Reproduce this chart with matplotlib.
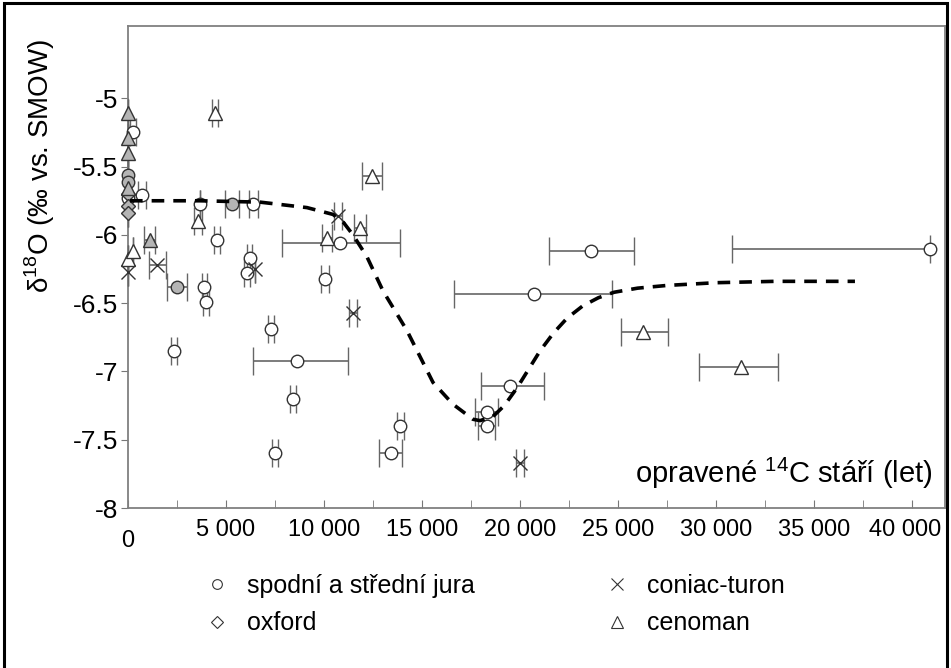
import matplotlib
matplotlib.use("Agg")
import matplotlib.pyplot as plt
import matplotlib.transforms as mtransforms
from matplotlib.lines import Line2D
from matplotlib.patches import Rectangle

plt.rcParams["font.family"] = ["Liberation Sans", "DejaVu Sans"]
plt.rcParams["mathtext.fontset"] = "custom"
plt.rcParams["mathtext.rm"] = "Liberation Sans"

# spodni a stredni jura (open circles)
jura_x = [0, 250, 700, 3650, 6400, 4550, 6200, 6050, 10050, 3900, 4000, 7300, 2350,
          8600, 8400, 7500, 13900, 13400, 10800, 23600, 20700, 19500, 18300, 18300, 40900]
jura_y = [-5.73, -5.25, -5.71, -5.77, -5.77, -6.04, -6.17, -6.28, -6.32, -6.38, -6.49, -6.69, -6.85,
          -6.92, -7.2, -7.6, -7.4, -7.6, -6.06, -6.12, -6.43, -7.11, -7.3, -7.4, -6.1]
jura_lo = [0, 150, 200, 0, 250, 150, 150, 150, 200, 150, 150, 150, 150,
           2200, 150, 150, 200, 600, 2950, 2100, 4050, 1500, 600, 450, 10100]
jura_hi = [0, 150, 200, 0, 250, 150, 150, 150, 200, 150, 150, 150, 150,
           2600, 150, 150, 200, 600, 3100, 2200, 4000, 1750, 600, 450, 0]

# jura, grey filled
jura_g_x = [0, 0, 5300, 2500]
jura_g_y = [-5.56, -5.61, -5.77, -6.38]
jura_g_err = [0, 0, 350, 500]

# oxford (grey diamonds on the axis)
oxford_x = [0, 0, 0]
oxford_y = [-5.7, -5.79, -5.84]

# coniac-turon
coniac_x = [0, 1500, 6500, 10700, 11500, 20000]
coniac_y = [-6.27, -6.22, -6.25, -5.86, -6.57, -7.67]
coniac_err = [0, 450, 0, 200, 200, 200]

# cenoman (open triangles)
ceno_x = [0, 250, 4440, 3570, 11830, 10150, 12450, 26270, 31270]
ceno_y = [-6.18, -6.12, -5.11, -5.9, -5.95, -6.02, -5.57, -6.71, -6.97]
ceno_lo = [0, 0, 150, 200, 300, 250, 500, 1100, 2150]
ceno_hi = [0, 0, 150, 200, 300, 250, 500, 1300, 1900]

# cenoman, grey filled
ceno_g_x = [0, 0, 0, 0, 1100]
ceno_g_y = [-5.11, -5.29, -5.4, -5.66, -6.04]
ceno_g_err = [0, 0, 0, 0, 300]

# dashed trend curve
curve_x = [100, 3670, 6740, 9130, 10460, 11000, 11480, 12190, 13010, 14230, 15560, 16580,
           17600, 17960, 18620, 19200, 19850, 20500, 21020, 21700, 22400, 23200, 24000,
           24800, 26000, 27500, 30000, 33000, 37090]
curve_y = [-5.75, -5.75, -5.76, -5.8, -5.85, -5.91, -6.0, -6.16, -6.41, -6.7, -7.08, -7.24,
           -7.35, -7.36, -7.33, -7.25, -7.12, -6.97, -6.85, -6.72, -6.61, -6.52, -6.46,
           -6.42, -6.39, -6.37, -6.35, -6.34, -6.34]

xticks = [0, 5000, 10000, 15000, 20000, 25000, 30000, 35000, 40000]
xtick_labels = ["0", "5 000", "10 000", "15 000", "20 000", "25 000", "30 000", "35 000", "40 000"]
yticks = [-8, -7.5, -7, -6.5, -6, -5.5, -5]
ytick_labels = ["-8", "-7.5", "-7", "-6.5", "-6", "-5.5", "-5"]

fig = plt.figure(figsize=(9.51, 6.68), dpi=100)
ax = fig.add_axes([0.1346, 0.2395, 0.859, 0.7216])

edge = "#333333"
grey = "#b4b4b4"
bar = "#666666"


def series(x, y, lo, hi, marker, face, size=9):
    ax.errorbar(x, y, xerr=[lo, hi], fmt=marker, ms=size, mfc=face, mec=edge, mew=1.0,
                ecolor=bar, elinewidth=1.2, capsize=10, capthick=1.2, clip_on=False, zorder=3)


series(jura_x, jura_y, jura_lo, jura_hi, "o", "white")
series(jura_g_x, jura_g_y, jura_g_err, jura_g_err, "o", grey)
series(oxford_x, oxford_y, [0] * 3, [0] * 3, "D", grey, size=7.5)
series(ceno_x, ceno_y, ceno_lo, ceno_hi, "^", "white", size=10)
series(ceno_g_x, ceno_g_y, ceno_g_err, ceno_g_err, "^", grey, size=10)
ax.errorbar(coniac_x, coniac_y, xerr=coniac_err, fmt="x", ms=10, mec=edge, mew=1.0,
            ecolor=bar, elinewidth=1.2, capsize=10, capthick=1.2, clip_on=False, zorder=3)

ax.plot(curve_x, curve_y, color="black", lw=2.6, ls=(0, (3.5, 2.5)), zorder=4)

ax.set_xlim(0, 41680)
ax.set_ylim(-8, -4.47)
ax.set_xticks(xticks)
ax.set_xticklabels(xtick_labels, fontsize=17)
ax.set_xticks([2500 + 5000 * i for i in range(8)], minor=True)
ax.set_yticks(yticks)
ax.set_yticklabels(ytick_labels, fontsize=19)
ax.tick_params(axis="x", which="both", direction="in", length=6, color="#777777", pad=8)
ax.tick_params(axis="y", direction="out", length=5, color="#777777", pad=2)
for s in ax.spines.values():
    s.set_color("#808080")
    s.set_linewidth(1.3)

# the zero label sits a little lower in the original, the last one a bit to the left
xlabels = ax.get_xticklabels()
xlabels[0].set_transform(xlabels[0].get_transform()
                         + mtransforms.ScaledTranslation(0, -8 / 72, fig.dpi_scale_trans))
xlabels[-1].set_transform(xlabels[-1].get_transform()
                          + mtransforms.ScaledTranslation(-5 / 72, 0, fig.dpi_scale_trans))

ax.text(0.985, 0.035, r"opravené $^{14}$C stáří (let)", transform=ax.transAxes,
        ha="right", va="bottom", fontsize=21)
fig.text(0.042, 0.752, r"δ$^{18}$O (‰ vs. SMOW)", rotation=90, ha="center", va="center", fontsize=20)

handles = [
    Line2D([], [], ls="none", marker="o", ms=7, mfc="white", mec=edge, mew=0.8),
    Line2D([], [], ls="none", marker="D", ms=6, mfc="white", mec=edge, mew=0.8),
    Line2D([], [], ls="none", marker="x", ms=8, mec=edge, mew=0.8),
    Line2D([], [], ls="none", marker="^", ms=8, mfc="white", mec=edge, mew=0.8),
]
labels = ["spodní a střední jura", "oxford", "coniac-turon", "cenoman"]
fig.legend(handles, labels, ncol=2, loc="upper left", bbox_to_anchor=(0.207, 0.16),
           frameon=False, prop={"size": 18}, handletextpad=0.9,
           columnspacing=5.4, labelspacing=0.55, handlelength=0.6, borderpad=0)

# black frame around the picture (bottom edge falls outside)
fig.patches.append(Rectangle((0.004, -0.1), 0.992, 1.095, transform=fig.transFigure,
                             fill=False, ec="black", lw=2.2))

fig.savefig("out.png", dpi=100)
